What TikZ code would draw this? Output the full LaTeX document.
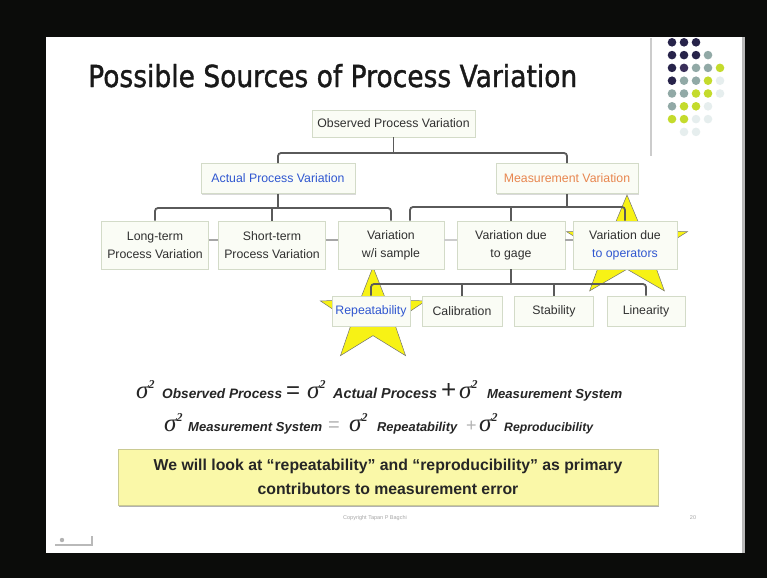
\documentclass[tikz,border=0pt]{standalone}
\usepackage{fontspec}
\usepackage{graphicx}
\setmainfont{Liberation Sans}
\newfontfamily\titlefont[BoldFont={DejaVu Sans}, BoldFeatures={FakeBold=1.3}]{DejaVu Sans}
\newfontfamily\serifgreek{Liberation Serif}
\usetikzlibrary{shadows}

\definecolor{frameblack}{HTML}{0B0C0A}
\definecolor{boxfill}{HTML}{FAFCF5}
\definecolor{boxline}{HTML}{D3DBC8}
\definecolor{boxtext}{HTML}{303030}
\definecolor{connline}{HTML}{5A5A5A}
\definecolor{actblue}{HTML}{3057D0}
\definecolor{measorange}{HTML}{E8864F}
\definecolor{starfill}{HTML}{F7F215}
\definecolor{notefill}{HTML}{FAF8A8}
\definecolor{noteline}{HTML}{CACA92}
\definecolor{dotD}{HTML}{27234A}
\definecolor{dotP}{HTML}{3A2F5A}
\definecolor{dotG}{HTML}{91A9A6}
\definecolor{dotY}{HTML}{C4DB2C}
\definecolor{dotF}{HTML}{E6EEEE}

% sigma squared and the scaled bold-italic subscripts
\newcommand\sigsq{{\serifgreek\itshape\fontsize{25}{25}\selectfont σ}\raisebox{10pt}{\serifgreek\bfseries\itshape\fontsize{12}{12}\selectfont 2}}
\newcommand\eqlabel[2]{\resizebox{#1}{!}{\bfseries\itshape\fontsize{11}{11}\selectfont #2}}
\newcommand\placeat[2]{\rlap{\hspace*{#1}#2}}

% five-pointed star: style, centre x, centre y, outer radius, horizontal stretch
\newcommand\fivestar[5]{%
  \path[#1] ({#2},{#3-#4})
    \foreach \k in {1,...,9}{
      -- ({#2+#5*#4*(1-0.6*mod(\k,2))*cos(90+36*\k)},{#3-#4*(1-0.6*mod(\k,2))*sin(90+36*\k)})
    } -- cycle;}

\begin{document}
\begin{tikzpicture}[x=1pt,y=-1pt,
  box/.style={draw=boxline, fill=boxfill, line width=0.8pt, inner sep=1pt,
    align=center, text=boxtext,
    font=\fontsize{12.3}{18}\selectfont,
    drop shadow={shadow xshift=0.8pt, shadow yshift=-1pt, fill=black, opacity=0.15}},
  conn/.style={draw=connline, line width=1.8pt, rounded corners=3pt},
  link/.style={draw=gray!70, line width=1.2pt},
  starstyle/.style={fill=starfill, draw=black!55, line width=0.5pt},
  notebox/.style={draw=noteline, fill=notefill, line width=0.8pt, align=center,
    font=\fontsize{15.8}{24}\selectfont\bfseries, text=black!85,
    minimum width=540pt, minimum height=56pt,
    drop shadow={shadow xshift=0.8pt, shadow yshift=-1.5pt, fill=black, opacity=0.3}},
  small/.style={font=\fontsize{5.5}{6}\selectfont, text=gray!70, inner sep=0}]

\useasboundingbox (0,0) rectangle (767,578);

% screen frame and slide
\fill[frameblack] (0,0) rectangle (767,578);
\fill[white] (46,37) rectangle (742,553);
\fill[gray!55] (742,37) rectangle (745,553);

% title
\node[anchor=base west, inner sep=0, text=black!90] (title) at (88,87)
  {\resizebox{489pt}{23pt}{\titlefont\bfseries Possible Sources of Process Variation}};

% decoration at top right
\draw[gray!40, line width=1.5pt] (651,38) -- (651,156);
\foreach \c/\r/\col in {1/1/dotD,2/1/dotD,3/1/dotD,
    1/2/dotD,2/2/dotD,3/2/dotD,4/2/dotG,
    1/3/dotD,2/3/dotP,3/3/dotG,4/3/dotG,5/3/dotY,
    1/4/dotD,2/4/dotG,3/4/dotG,4/4/dotY,5/4/dotF,
    1/5/dotG,2/5/dotG,3/5/dotY,4/5/dotY,5/5/dotF,
    1/6/dotG,2/6/dotY,3/6/dotY,4/6/dotF,
    1/7/dotY,2/7/dotY,3/7/dotF,4/7/dotF,
    2/8/dotF,3/8/dotF}
  \fill[\col] ({660+12*\c},{29.5+12.8*\r}) circle (4.3);

% highlight stars behind the tree
\fivestar{starstyle}{373}{316}{49}{1.13}
\fivestar{starstyle}{627}{248}{53}{1.2}

% tree nodes
\node[box, minimum width=163pt, minimum height=27pt] (obs) at (393.5,123.5) {Observed Process Variation};
\node[box, minimum width=154pt, minimum height=30pt, text=actblue] (act) at (278,178.5) {Actual Process Variation};
\node[box, minimum width=142pt, minimum height=30pt, text=measorange] (meas) at (567,178.5) {Measurement Variation};

\node[box, minimum width=107pt, minimum height=48pt] (long) at (155,245) {Long-term\\Process Variation};
\node[box, minimum width=107pt, minimum height=48pt] (short) at (272,245) {Short-term\\Process Variation};
\node[box, minimum width=106pt, minimum height=48pt] (wis) at (391,245) {Variation\\w/i sample};
\node[box, minimum width=108pt, minimum height=48pt] (gage) at (511,245) {Variation due\\to gage};
\node[box, minimum width=104pt, minimum height=48pt] (ops) at (625,245) {Variation due\\{\color{actblue}to operators}};

\node[box, minimum width=78pt, minimum height=30pt, text=actblue] (rep) at (371,311) {Repeatability};
\node[box, minimum width=80pt, minimum height=30pt] (cal) at (462,311) {Calibration};
\node[box, minimum width=79pt, minimum height=30pt] (stab) at (554,311) {Stability};
\node[box, minimum width=78pt, minimum height=30pt] (lin) at (646,311) {Linearity};

% bar levels
\coordinate (barA) at (0,153);
\coordinate (barB) at (0,208);
\coordinate (barC) at (0,207);
\coordinate (barD) at (0,284);
\coordinate (dashY) at (0,240);

% connectors
\draw[conn] (obs.south) -- (obs.south |- barA);
\draw[conn] (act.north) -- (act.north |- barA) -- (meas.north |- barA) -- (meas.north);

\draw[conn] (act.south) -- (act.south |- barB);
\draw[conn] (long.north) -- (long.north |- barB) -- (wis.north |- barB) -- (wis.north);
\draw[conn] (short.north) -- (short.north |- barB);

\draw[conn] (meas.south) -- (meas.south |- barC);
\draw[conn] ([xshift=19pt]wis.north) -- ([xshift=19pt]wis.north |- barC) -- (ops.north |- barC) -- (ops.north);
\draw[conn] (gage.north) -- (gage.north |- barC);

\draw[conn] (gage.south) -- (gage.south |- barD);
\draw[conn] (rep.north) -- (rep.north |- barD) -- (lin.north |- barD) -- (lin.north);
\draw[conn] (cal.north) -- (cal.north |- barD);
\draw[conn] (stab.north) -- (stab.north |- barD);

\draw[link] (long.east |- dashY) -- (short.west |- dashY);
\draw[link] (short.east |- dashY) -- (wis.west |- dashY);
\draw[link, draw=gray!40] (wis.east |- dashY) -- (gage.west |- dashY);
\draw[link] (gage.east |- dashY) -- (ops.west |- dashY);

% variance equations
\node[anchor=base west, inner sep=0, text=black!85] (eqA) at (136,398) {%
  \placeat{0pt}{\sigsq}%
  \placeat{26pt}{\eqlabel{120pt}{Observed Process}}%
  \placeat{150pt}{\fontsize{24}{24}\selectfont =}%
  \placeat{171pt}{\sigsq}%
  \placeat{197pt}{\eqlabel{104pt}{Actual Process}}%
  \placeat{305pt}{\fontsize{26}{26}\selectfont +}%
  \placeat{323pt}{\sigsq}%
  \placeat{351pt}{\eqlabel{135pt}{Measurement System}}%
  \hspace*{486pt}};
\node[anchor=base west, inner sep=0, text=black!85] (eqB) at (164,431) {%
  \placeat{0pt}{\sigsq}%
  \placeat{24pt}{\eqlabel{134pt}{Measurement System}}%
  \placeat{164pt}{\textcolor{gray!60}{\fontsize{20}{20}\selectfont =}}%
  \placeat{185pt}{\sigsq}%
  \placeat{213pt}{\eqlabel{80pt}{Repeatability}}%
  \placeat{302pt}{\textcolor{gray!60}{\fontsize{18}{18}\selectfont +}}%
  \placeat{315pt}{\sigsq}%
  \placeat{340pt}{\eqlabel{89pt}{Reproducibility}}%
  \hspace*{429pt}};

% conclusion box
\node[notebox] (note) at (388,477) {We will look at “repeatability” and “reproducibility” as primary\\contributors to measurement error};

% footer
\node[small] (copy) at (375,518) {Copyright Tapan P Bagchi};
\node[small] (page) at (693,518) {20};

% navigation mark
\fill[gray!60] (62,540) circle (2.2);
\draw[gray!55, line width=1.3pt] (55,545) -- (92,545) -- (92,536);

\end{tikzpicture}
\end{document}
